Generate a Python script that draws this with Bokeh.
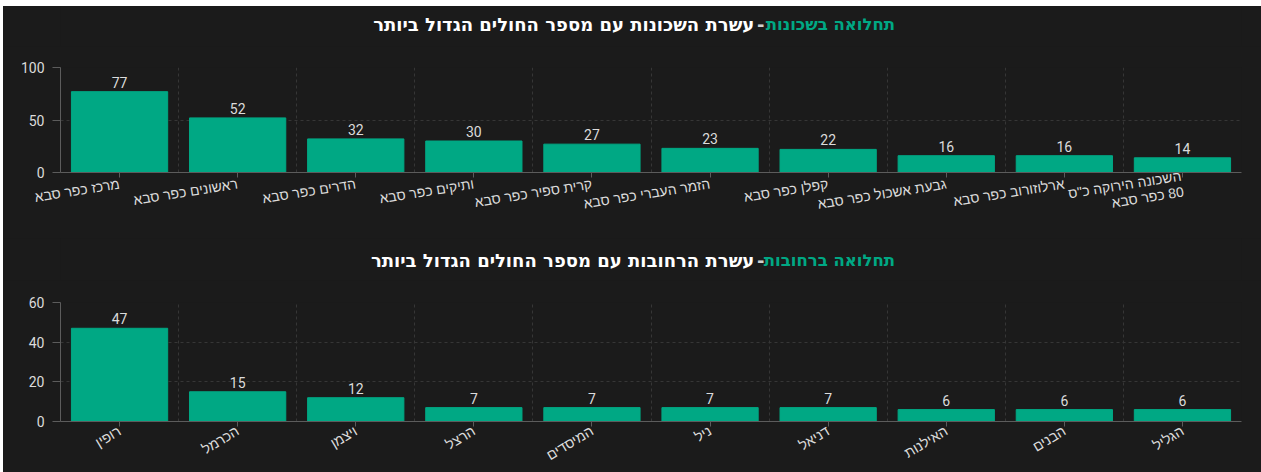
import math
from bokeh.plotting import figure
from bokeh.models import ColumnDataSource, Range1d, FixedTicker, Label
from bokeh.layouts import column
from bokeh.embed import file_html
from bokeh.resources import INLINE
from bokeh.core.properties import value

# ---- data ----
hood_names = ["מרכז כפר סבא", "ראשונים כפר סבא", "הדרים כפר סבא", "ותיקים כפר סבא",
              "קרית ספיר כפר סבא", "הזמר העברי כפר סבא", "קפלן כפר סבא",
              "גבעת אשכול כפר סבא", "ארלוזורוב כפר סבא", "השכונה הירוקה כ\"ס\n\u200f80 כפר סבא"]
hood_cases = [77, 52, 32, 30, 27, 23, 22, 16, 16, 14]
hood_y_ticks = [0, 50, 100]

street_names = ["רופין", "הכרמל", "ויצמן", "הרצל", "המיסדים", "ניל", "דניאל",
                "האילנות", "הבנים", "הגליל"]
street_cases = [47, 15, 12, 7, 7, 7, 7, 6, 6, 6]
street_y_ticks = [0, 20, 40, 60]

hood_title_green = "תחלואה בשכונות"
hood_title_white = "עשרת השכונות עם מספר החולים הגדול ביותר"
street_title_green = "תחלואה ברחובות"
street_title_white = "עשרת הרחובות עם מספר החולים הגדול ביותר"

BG = "#1b1b1b"
GREEN = "#00a884"
AXIS = "#5c5c5c"
GRID = "#363636"
TXT = "#dcdcdc"
HEB = "Liberation Sans, Arial, DejaVu Sans, sans-serif"
TITLE_FONT = "DejaVu Sans, Liberation Sans, sans-serif"
NUM = "Roboto, sans-serif"
W = 1258


def make_title(t_green, t_white, height, cy):
    t = figure(width=W, height=height, x_range=Range1d(0, W), y_range=Range1d(0, height),
               output_backend="svg", toolbar_location=None, min_border=0,
               background_fill_color=BG, border_fill_color=BG, outline_line_color=None)
    t.axis.visible = False
    t.grid.visible = False
    common = dict(y=cy, text_baseline="middle", text_font=TITLE_FONT, text_font_style="bold")
    t.add_layout(Label(x=889, text=t_green, text_align="right", text_color=GREEN,
                       text_font_size="16.5px", **common))
    t.add_layout(Label(x=746, text="-", text_align="center", text_color="#cfcfcf",
                       text_font_size="18px", **common))
    t.add_layout(Label(x=739, text=t_white, text_align="right", text_color="#ffffff",
                       text_font_size="18px", **common))
    return t


def make_chart(names, cases, y_ticks, height, top_b, bottom_b, angle, standoff):
    n = len(names)
    centers = [i + 0.5 for i in range(n)]
    src = ColumnDataSource(dict(x=centers, top=cases, label=[str(v) for v in cases]))
    p = figure(width=W, height=height, x_range=Range1d(0, n), y_range=Range1d(0, y_ticks[-1]),
               output_backend="svg", toolbar_location=None,
               min_border_left=57, min_border_right=20, min_border_top=top_b, min_border_bottom=bottom_b,
               background_fill_color=BG, border_fill_color=BG, outline_line_color=None)
    p.vbar(x="x", top="top", width=0.815, source=src, fill_color=GREEN, line_color=GREEN)
    p.text(x="x", y="top", text="label", source=src, text_align="center", text_baseline="bottom",
           y_offset=-4, text_color=TXT, text_font=value(NUM), text_font_size="14px")

    p.xaxis.ticker = FixedTicker(ticks=centers)
    p.xaxis.major_label_overrides = {c: nm for c, nm in zip(centers, names)}
    p.xaxis.major_label_orientation = angle
    p.xaxis.major_label_text_font = HEB
    p.xaxis.major_label_standoff = standoff
    p.xaxis.major_label_text_line_height = 1.0
    p.yaxis.ticker = FixedTicker(ticks=y_ticks)
    p.yaxis.major_label_text_font = NUM
    p.yaxis.major_label_standoff = 8
    for ax in (p.xaxis, p.yaxis):
        ax.axis_line_color = AXIS
        ax.major_tick_line_color = AXIS
        ax.minor_tick_line_color = None
        ax.major_tick_in = 0
        ax.major_label_text_color = TXT
        ax.major_label_text_font_size = "14px"
    p.xaxis.major_tick_out = 5
    p.yaxis.major_tick_out = 8

    p.xgrid.ticker = FixedTicker(ticks=list(range(1, n + 1)))
    p.ygrid.ticker = FixedTicker(ticks=y_ticks[1:])
    for g in (p.xgrid, p.ygrid):
        g.grid_line_color = GRID
        g.grid_line_dash = "3 3"
    return p


t1 = make_title(hood_title_green, hood_title_white, 40, 22)
p1 = make_chart(hood_names, hood_cases, hood_y_ticks, 192, 21, 66, math.radians(9), 6)
t2 = make_title(street_title_green, street_title_white, 42, 20)
p2 = make_chart(street_names, street_cases, street_y_ticks, 192, 22, 51, math.radians(31), 3)

layout = column(t1, p1, t2, p2, spacing=0, margin=(6, 0, 0, 3),
                styles={"background-color": BG})
open("out.html", "w").write(file_html(layout, INLINE))
